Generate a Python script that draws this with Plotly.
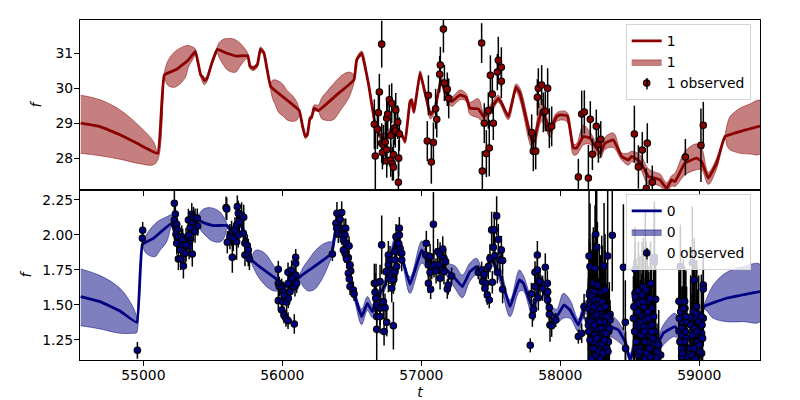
import plotly.graph_objects as go

# ---- series 1 (top panel) ----
curve1_x = [54549,54688,54832,54976,55103,55151,55240,55324,55374,55412,55424,55439,55456,55492,55532,55600,55671,55751,55767,55791,55820,55842,55868,55916,56031,56122,56146,56165,56180,56199,56211,56228,56259,56391,56515,56535,56571,56619,56667,56708,56727,56787,56847,56883,56919,56931,56947,56991,57027,57067,57099,57142,57170,57218,57278,57322,57350,57410,57451,57518,57554,57578,57626,57681,57710,57782,57806,57866,57926,57974,57998,58051,58094,58118,58166,58214,58286,58322,58382,58442,58490,58514,58574,58633,58681,58717,58765,58801,58825,58897,58981,59017,59065,59125,59185,59317,59437]
curve1_y = [29.0,28.9,28.67,28.38,28.14,30.38,30.54,30.81,31.05,30.38,30.33,30.22,30.26,30.71,31.11,31.0,30.92,30.93,30.62,30.57,30.67,31.11,31.0,30.05,29.67,29.36,28.9,28.62,28.67,29.14,29.17,29.43,29.36,29.81,30.24,30.81,31.0,30.14,29.0,28.62,28.48,28.81,28.76,28.48,29.62,29.67,29.33,30.43,29.86,29.24,29.43,30.24,29.9,29.62,29.81,29.74,29.43,29.41,29.17,29.52,29.71,29.57,29.19,30.03,29.86,28.67,28.43,29.38,28.81,29.19,29.24,29.21,28.29,28.29,28.62,28.57,28.14,28.43,28.52,28.05,27.95,28.05,27.9,27.48,27.43,27.38,27.14,27.38,27.33,27.86,28.0,27.9,27.43,27.86,28.62,28.79,28.92]

band1_x = [54549,54688,54832,54976,55072,55108,55151,55160,55180,55228,55300,55324,55360,55374,55412,55439,55456,55492,55532,55545,55575,55605,55635,55665,55695,55730,55751,55767,55791,55820,55842,55868,55916,55930,55947,55975,56007,56031,56079,56105,56122,56146,56165,56180,56199,56211,56228,56259,56283,56319,56367,56415,56475,56505,56515,56535,56571,56619,56667,56708,56787,56847,56883,56919,56947,56991,57027,57067,57099,57142,57170,57218,57278,57322,57350,57410,57451,57518,57554,57626,57681,57710,57782,57806,57866,57926,57974,58046,58094,58118,58166,58214,58286,58322,58382,58442,58490,58514,58574,58633,58681,58717,58765,58801,58825,58897,58981,59017,59065,59125,59185,59200,59221,59257,59293,59365,59437]
band1_hi = [29.8,29.67,29.38,28.9,28.48,28.1,30.43,30.6,30.81,31.05,31.21,31.22,31.17,31.12,30.45,30.3,30.33,30.77,31.19,31.3,31.4,31.42,31.42,31.38,31.29,31.13,31.0,30.68,30.63,30.73,31.18,31.06,30.14,30.23,30.24,30.2,30.1,29.95,29.76,29.6,29.38,28.96,28.68,28.73,29.2,29.23,29.52,29.52,29.72,29.9,30.12,30.33,30.46,30.42,30.33,30.87,31.06,30.2,29.06,28.7,28.87,28.82,28.54,29.68,29.39,30.5,29.93,29.34,29.5,30.35,30.0,29.76,29.95,29.85,29.6,29.7,29.3,29.65,29.8,29.27,30.12,30.0,28.85,28.6,29.7,28.95,29.3,29.32,28.4,28.42,28.95,28.75,28.3,28.6,28.72,28.15,28.15,28.2,28.1,27.7,27.6,27.55,27.3,27.5,27.57,28.19,28.41,28.29,27.6,28.0,28.67,28.95,29.19,29.33,29.43,29.55,29.65]
band1_lo = [28.14,28.07,27.97,27.84,27.81,28.0,30.33,30.2,30.07,30.03,30.29,30.6,30.85,30.96,30.32,30.1,30.18,30.65,31.0,30.88,30.67,30.52,30.46,30.46,30.62,30.8,30.86,30.56,30.5,30.6,31.05,30.94,29.95,29.7,29.55,29.3,29.2,29.1,29.05,29.09,29.2,28.84,28.56,28.61,29.08,29.11,29.34,29.33,29.13,29.08,29.1,29.35,29.7,30.0,30.14,30.75,30.94,30.08,28.94,28.54,28.75,28.7,28.42,29.56,29.27,30.35,29.79,29.12,29.36,30.1,29.8,29.48,29.67,29.63,29.25,29.15,29.02,29.4,29.6,29.1,29.9,29.65,28.4,28.2,29.05,28.6,29.05,29.05,28.1,28.1,28.38,28.4,28.0,28.25,28.3,27.95,27.8,27.9,27.7,27.25,27.25,27.2,27.05,27.2,27.19,27.52,27.67,27.67,27.25,27.7,28.57,28.35,28.24,28.18,28.14,28.12,28.12]

obs1_x = [56662,56669,56684,56691,56698,56715,56715,56720,56727,56741,56751,56751,56758,56751,56770,56780,56787,56780,56792,56799,56799,56806,56813,56816,56830,56842,56837,56835,57051,57043,57072,57087,57103,57111,57132,57137,57159,57166,57187,57197,57434,57439,57453,57468,57482,57489,57497,57511,57518,57547,57554,57576,57576,57794,57806,57823,57835,57842,57866,57878,57892,57909,57921,57938,58130,58154,58173,58202,58216,58231,58259,58274,58291,58533,58562,58590,58626,58619,58662,58900,59012,59029]
obs1_y = [28.97,28.06,28.83,29.3,29.89,31.26,28.43,28.16,28.38,28.46,29.14,28.24,29.26,27.92,29.67,28.64,29.57,27.95,27.84,28.1,27.74,28.86,28.78,29.38,29.03,28.69,28.0,27.31,29.8,28.49,27.89,28.45,29.41,29.11,30.4,30.66,31.69,30.15,29.97,29.71,31.29,27.63,29.0,28.13,29.36,28.29,30.37,29.83,29.0,30.46,30.8,30.6,30.2,28.73,28.2,28.2,29.74,30.0,30.09,29.31,29.34,30.0,28.86,28.91,27.46,29.26,29.32,27.43,29.11,28.11,28.91,28.39,28.54,28.69,27.75,28.23,28.43,27.14,27.31,28.03,28.37,28.94]
obs1_err = [0.71,0.95,0.57,0.67,0.52,0.67,0.57,0.48,0.57,0.57,0.48,0.48,0.48,0.48,0.43,0.52,0.57,0.48,0.48,0.43,0.38,0.48,0.48,0.48,0.48,0.48,0.52,0.57,0.57,0.57,0.62,0.57,0.57,0.52,0.52,0.52,0.67,0.52,0.48,0.57,0.57,0.57,0.57,0.67,0.52,0.81,0.57,0.57,0.48,0.52,0.67,0.57,0.48,0.52,0.57,0.52,0.52,0.57,0.57,0.57,0.57,0.57,0.57,0.57,0.52,0.67,0.62,0.95,0.52,0.45,0.48,0.52,0.52,0.81,0.62,0.52,0.57,0.57,0.48,0.52,1.05,0.67]

# ---- series 0 (bottom panel) ----
curve0_x = [54549,54688,54832,54952,54993,55072,55204,55240,55288,55348,55396,55432,55504,55600,55647,55683,55743,55779,55983,56031,56079,56127,56355,56379,56403,56439,56487,56523,56571,56612,56648,56674,56739,56811,56859,56919,57003,57051,57170,57242,57295,57350,57398,57446,57506,57566,57638,57705,57734,57806,57854,57938,57974,58027,58070,58130,58178,58274,58358,58418,58466,58502,58538,58598,58681,58741,58825,58885,58945,58981,59034,59197,59437]
curve0_y = [1.56,1.524,1.457,1.376,1.933,1.976,2.083,1.964,1.917,2.07,2.107,2.088,2.067,2.067,2.02,2.12,1.95,1.821,1.667,1.631,1.655,1.702,1.869,2.012,2.12,2.0,1.714,1.56,1.417,1.512,1.452,1.536,1.643,1.952,1.845,1.648,1.893,1.798,1.762,1.69,1.631,1.738,1.774,1.69,1.821,1.714,1.488,1.679,1.655,1.464,1.667,1.44,1.417,1.5,1.464,1.357,1.488,1.333,1.345,1.321,1.238,1.107,1.214,1.238,1.19,1.298,1.345,1.262,1.167,1.333,1.488,1.548,1.595]

band0_x = [54549,54688,54832,54928,54950,54959,54993,55010,55036,55084,55120,55168,55204,55240,55288,55348,55396,55415,55444,55480,55516,55550,55576,55595,55600,55647,55683,55743,55779,55795,55815,55850,55887,55925,55959,55983,56031,56079,56127,56150,56187,56230,56283,56330,56355,56379,56403,56439,56487,56523,56571,56612,56648,56674,56739,56811,56859,56919,57003,57051,57170,57242,57295,57350,57398,57446,57506,57566,57638,57705,57734,57806,57854,57938,57974,58022,58070,58130,58178,58274,58358,58418,58466,58502,58538,58598,58681,58741,58825,58885,58945,58981,59034,59101,59197,59317,59437]
band0_hi = [1.757,1.71,1.619,1.48,1.42,1.37,1.94,1.98,2.024,2.08,2.107,2.13,2.143,2.02,1.97,2.12,2.143,2.17,2.19,2.195,2.186,2.165,2.131,2.1,2.083,2.05,2.15,1.98,1.845,1.88,1.893,1.885,1.857,1.8,1.75,1.679,1.66,1.68,1.726,1.77,1.821,1.88,1.929,1.95,1.952,2.05,2.15,2.03,1.74,1.6,1.47,1.56,1.5,1.58,1.68,1.98,1.87,1.7,1.957,1.83,1.8,1.779,1.714,1.8,1.833,1.74,1.86,1.77,1.536,1.75,1.71,1.53,1.72,1.49,1.47,1.583,1.536,1.4,1.53,1.4,1.429,1.381,1.28,1.15,1.26,1.28,1.23,1.357,1.44,1.31,1.21,1.37,1.5,1.643,1.733,1.774,1.79]
band0_lo = [1.352,1.329,1.298,1.298,1.3,1.33,1.917,1.88,1.857,1.845,1.89,1.952,2.06,1.91,1.87,2.02,2.083,2.03,2.0,1.965,1.95,1.95,1.97,2.03,2.048,1.99,2.09,1.92,1.798,1.76,1.72,1.67,1.63,1.605,1.6,1.643,1.6,1.63,1.667,1.63,1.6,1.61,1.68,1.78,1.85,1.97,2.09,1.97,1.69,1.52,1.36,1.46,1.41,1.49,1.61,1.92,1.82,1.583,1.798,1.76,1.72,1.619,1.552,1.67,1.714,1.64,1.78,1.66,1.417,1.595,1.6,1.4,1.62,1.39,1.37,1.405,1.405,1.31,1.44,1.28,1.274,1.238,1.19,1.09,1.17,1.2,1.15,1.214,1.274,1.19,1.12,1.29,1.47,1.405,1.381,1.381,1.381]

# observed, cluster by cluster
early_x = [54957,54995,54993]
early_y = [1.176,2.033,1.976]
early_e = [0.06,0.06,0.06]

b_x = [55223,55230,55223,55228,55240,55245,55235,55245,55240,55252,55276,55283,55283,55269,55300,55336,55329,55331,55324,55348,55360,55348,55372,55388,55391,55360,55372,55329,55252,55269,55288,55352,55307,55336]
b_y = [2.226,2.15,2.107,2.071,2.076,2.036,2.005,1.976,1.94,1.988,1.988,1.964,1.929,1.893,1.869,1.964,2.0,1.94,2.107,2.148,2.131,2.083,2.119,2.119,2.064,2.048,2.024,1.917,1.829,1.829,1.779,1.864,1.929,2.052]
b_e = [0.1,0.07,0.07,0.08,0.08,0.08,0.07,0.08,0.08,0.08,0.08,0.08,0.08,0.09,0.1,0.08,0.08,0.09,0.08,0.08,0.07,0.08,0.07,0.07,0.07,0.09,0.08,0.09,0.08,0.08,0.09,0.09,0.12,0.08]

c_x = [55595,55600,55676,55683,55707,55722,55604,55635,55659,55671,55640,55671,55623,55647,55683,55719,55731,55748,55755,55731,55755,55763,55691]
c_y = [2.195,2.186,2.202,2.155,2.143,2.126,1.948,2.012,2.036,2.071,1.84,1.952,1.988,1.976,2.0,2.012,1.94,1.924,1.893,1.857,1.857,1.829,2.095]
c_e = [0.08,0.08,0.08,0.09,0.09,0.09,0.08,0.09,0.09,0.09,0.11,0.13,0.09,0.09,0.09,0.09,0.09,0.08,0.08,0.08,0.08,0.08,0.09]

d_x = [55971,55971,55978,55995,56007,55971,56002,56031,56043,56012,56055,56067,56079,56091,56103,56086,55995,56012,56026,56041,56041,56067,56096,56096,56096,56067,56043,56360]
d_y = [1.755,1.655,1.631,1.619,1.595,1.531,1.524,1.519,1.548,1.571,1.595,1.643,1.667,1.631,1.655,1.364,1.464,1.429,1.405,1.388,1.733,1.75,1.714,1.798,1.84,1.69,1.655,1.864]
d_e = [0.06,0.06,0.07,0.07,0.07,0.07,0.07,0.07,0.07,0.07,0.07,0.07,0.07,0.07,0.07,0.07,0.06,0.06,0.06,0.06,0.07,0.07,0.07,0.07,0.06,0.07,0.07,0.05]

e_x = [56393,56427,56386,56415,56391,56403,56444,56427,56451,56456,56439,56463,56480,56451,56475,56487,56492,56475,56482,56487,56511,56516,56439,56463]
e_y = [2.155,2.16,2.083,2.112,2.048,2.012,2.048,2.0,2.0,2.048,1.964,1.94,1.921,1.869,1.838,1.786,1.743,1.726,1.686,1.631,1.607,1.579,1.893,1.829]
e_e = [0.08,0.08,0.07,0.07,0.07,0.07,0.07,0.07,0.07,0.07,0.07,0.07,0.07,0.07,0.07,0.06,0.06,0.06,0.06,0.06,0.06,0.05,0.07,0.07]

f_x = [56662,56674,56667,56703,56672,56679,56703,56727,56739,56679,56703,56751,56732,56679,56799,56715,56763,56775,56763,56775,56746,56763,56787,56811,56799,56787,56811,56818,56842,56842,56847,56859,56859,56811,56835,56823]
f_y = [1.655,1.655,1.59,1.667,1.548,1.5,1.476,1.524,1.481,1.417,1.417,1.376,1.31,1.326,1.352,1.929,1.857,1.821,1.786,1.75,1.738,1.69,1.714,1.738,1.679,1.619,1.821,1.988,2.048,2.0,1.905,1.869,1.821,1.881,1.94,1.774]
f_e = [0.14,0.14,0.14,0.12,0.14,0.12,0.12,0.12,0.1,0.12,0.12,0.1,0.1,0.22,0.17,0.21,0.1,0.1,0.1,0.1,0.1,0.1,0.1,0.1,0.1,0.1,0.09,0.09,0.08,0.08,0.08,0.08,0.08,0.1,0.09,0.1]

g_x = [57036,57031,57063,57051,57075,57063,57051,57067,57091,57118,57135,57154,57130,57135,57106,57163,57175,57163,57187,57194,57218,57087]
g_y = [1.94,1.857,1.845,1.786,1.774,1.733,1.655,1.612,1.786,1.881,1.857,1.9,1.786,1.69,1.743,1.833,1.81,1.738,1.614,1.643,1.707,2.076]
g_e = [0.09,0.09,0.09,0.09,0.09,0.09,0.07,0.07,0.09,0.09,0.09,0.09,0.09,0.08,0.09,0.09,0.09,0.09,0.07,0.07,0.06,0.23]

h_x = [57410,57434,57451,57441,57465,57458,57475,57489,57482,57494,57506,57525,57542,57518,57530,57554,57576,57566,57585,57547,57511,57585]
h_y = [1.733,1.75,1.719,1.667,1.655,1.619,1.571,1.536,1.774,1.833,2.036,2.036,2.136,1.912,1.852,1.969,1.893,1.821,1.817,1.733,1.662,1.612]
h_e = [0.05,0.06,0.06,0.07,0.07,0.07,0.07,0.06,0.09,0.1,0.13,0.13,0.14,0.12,0.12,0.11,0.1,0.1,0.1,0.08,0.08,0.1]

i_x = [57784,57792,57799,57808,57818,57818,57835,57835,57842,57854,57873,57842,57892,57907,57909,57909,57921,57921,57926,57938,57967,58130,58154]
i_y = [1.212,1.579,1.424,1.469,1.631,1.733,1.857,1.75,1.679,1.667,1.619,1.552,1.769,1.655,1.595,1.536,1.481,1.433,1.357,1.352,1.393,1.274,1.298]
i_e = [0.05,0.08,0.08,0.08,0.08,0.08,0.1,0.1,0.09,0.09,0.09,0.09,0.1,0.09,0.08,0.08,0.09,0.09,0.12,0.08,0.05,0.05,0.07]

j_x = [58171,58207,58255,58262,58374,58341,58315,58214,58250,58238,58214,58245,58298,58322,58226,58202,58214,58238,58262,58298,58202,58238,58274,58310,58358,58358,58226,58262,58298,58334,58202,58250,58291,58346,58274,58291,58334,58226,58286,58238,58310,58454,58468,58470]
j_y = [1.488,1.85,2.005,1.912,1.998,1.85,1.779,1.774,1.762,1.655,1.595,1.595,1.595,1.607,1.536,1.476,1.524,1.452,1.464,1.44,1.393,1.405,1.393,1.417,1.433,1.393,1.333,1.333,1.333,1.357,1.357,1.286,1.274,1.238,1.214,1.19,1.19,1.119,1.119,1.238,1.298,1.769,1.376,1.19]
j_e = [0.09,0.5,0.5,0.5,0.4,0.5,0.45,0.45,0.45,0.4,0.35,0.35,0.4,0.4,0.35,0.3,0.35,0.35,0.3,0.35,0.3,0.3,0.3,0.35,0.1,0.1,0.3,0.3,0.3,0.3,0.3,0.3,0.3,0.25,0.3,0.3,0.25,0.3,0.3,0.3,0.3,0.45,0.3,0.12]

j2_x = [58209,58219,58231,58240,58250,58259,58269,58281,58291,58303,58312,58324,58336,58348,58204,58214,58223,58235,58245,58255,58264,58276,58286,58298,58307,58319,58331,58343,58353,58267]
j2_y = [1.571,1.5,1.56,1.488,1.536,1.429,1.512,1.536,1.476,1.524,1.381,1.488,1.417,1.31,1.31,1.25,1.381,1.19,1.357,1.143,1.262,1.167,1.381,1.226,1.155,1.25,1.298,1.167,1.333,1.643]
j2_e = [0.4,0.4,0.45,0.4,0.4,0.38,0.42,0.4,0.38,0.4,0.38,0.4,0.35,0.3,0.35,0.33,0.38,0.33,0.38,0.33,0.35,0.33,0.38,0.33,0.3,0.33,0.35,0.3,0.33,0.45]

k_x = [58612,58538,58538,58562,58598,58617,58650,58574,58545,58686,58526,58586,58621,58657,58550,58574,58598,58641,58562,58598,58641,58681,58550,58574,58610,58645,58669,58722,58562,58610,58645,58693,58586,58677,58677]
k_y = [1.886,1.755,1.583,1.6,1.631,1.607,1.655,1.548,1.536,1.54,1.405,1.421,1.429,1.476,1.357,1.345,1.345,1.345,1.298,1.286,1.286,1.31,1.19,1.19,1.238,1.226,1.214,1.143,1.143,1.124,1.131,1.124,1.167,1.84,1.805]
k_e = [0.3,0.3,0.3,0.35,0.35,0.35,0.3,0.3,0.3,0.3,0.3,0.3,0.3,0.3,0.3,0.3,0.3,0.3,0.25,0.25,0.25,0.25,0.2,0.25,0.25,0.25,0.2,0.1,0.2,0.2,0.2,0.2,0.2,0.4,0.4]

k2_x = [58530,58540,58552,58564,58576,58588,58600,58612,58624,58636,58648,58660,58672,58684,58696,58708,58535,58547,58559,58571,58583,58595,58607,58619,58631,58643,58655,58667]
k2_y = [1.488,1.56,1.44,1.512,1.381,1.571,1.488,1.393,1.524,1.405,1.548,1.357,1.417,1.25,1.167,1.214,1.31,1.238,1.452,1.167,1.286,1.524,1.31,1.155,1.452,1.19,1.31,1.262]
k2_e = [0.33,0.38,0.33,0.35,0.3,0.38,0.33,0.3,0.35,0.33,0.38,0.3,0.33,0.28,0.2,0.25,0.3,0.28,0.33,0.25,0.3,0.35,0.3,0.25,0.33,0.25,0.3,0.28]

l_x = [58864,58854,58895,58854,58878,58909,58964,59029,59029,58897,58938,58873,58909,58873,58909,58981,59029,59017,58969,58988,58933,58969,59017,58873,58993,58950]
l_y = [1.774,1.526,1.526,1.314,1.381,1.381,1.679,1.643,1.614,1.476,1.412,1.286,1.262,1.19,1.131,1.488,1.405,1.298,1.286,1.238,1.19,1.119,1.155,1.131,1.321,1.802]
l_e = [0.3,0.25,0.25,0.25,0.25,0.25,0.3,0.2,0.2,0.25,0.3,0.2,0.2,0.15,0.15,0.3,0.2,0.2,0.2,0.2,0.15,0.15,0.15,0.15,0.2,0.4]

l2_x = [58856,58866,58876,58885,58895,58904,58938,58948,58957,58967,58976,58986,58996,59005,59015,59024,58861,58880,58900,58943,58962,58981,59000,59020]
l2_y = [1.405,1.452,1.333,1.476,1.238,1.417,1.357,1.286,1.452,1.333,1.405,1.31,1.381,1.167,1.417,1.262,1.238,1.155,1.31,1.143,1.19,1.44,1.214,1.357]
l2_e = [0.33,0.35,0.3,0.35,0.25,0.33,0.33,0.3,0.38,0.33,0.38,0.3,0.33,0.2,0.3,0.25,0.28,0.2,0.28,0.2,0.25,0.38,0.22,0.28]

clusters0 = [(early_x,early_y,early_e),(b_x,b_y,b_e),(c_x,c_y,c_e),(d_x,d_y,d_e),(e_x,e_y,e_e),(f_x,f_y,f_e),(g_x,g_y,g_e),(h_x,h_y,h_e),(i_x,i_y,i_e),(j_x,j_y,j_e),(j2_x,j2_y,j2_e),(k_x,k_y,k_e),(k2_x,k2_y,k2_e),(l_x,l_y,l_e),(l2_x,l2_y,l2_e)]
for a,b,c in clusters0:
    assert len(a)==len(b)==len(c),(len(a),len(b),len(c),a[0])
assert len(band1_x)==len(band1_hi)==len(band1_lo),(len(band1_x),len(band1_hi),len(band1_lo))
assert len(band0_x)==len(band0_hi)==len(band0_lo),(len(band0_x),len(band0_hi),len(band0_lo))

obs0_x = sum((c[0] for c in clusters0), [])
obs0_y = sum((c[1] for c in clusters0), [])
obs0_err = sum((c[2] for c in clusters0), [])

RED = "#8b0000"; NAVY = "#000080"
RED_A = "rgba(139,0,0,0.5)"; NAVY_A = "rgba(0,0,128,0.5)"
FONT = "DejaVu Sans"

fig = go.Figure()

def add_panel(xa, ya, legend, name, color, fill, bx, hi, lo, cx, cy, ox, oy, oe):
    fig.add_trace(go.Scatter(x=bx + bx[::-1], y=hi + lo[::-1], xaxis=xa, yaxis=ya, mode="lines",
                             fill="toself", fillcolor=fill, line=dict(color=fill, width=1, shape="spline", smoothing=1),
                             name=name, legend=legend, legendrank=2))
    fig.add_trace(go.Scatter(x=cx, y=cy, xaxis=xa, yaxis=ya, mode="lines",
                             line=dict(color=color, width=2.8, shape="spline", smoothing=0.3), name=name, legend=legend, legendrank=1))
    fig.add_trace(go.Scatter(x=ox, y=oy, xaxis=xa, yaxis=ya, mode="markers",
                             marker=dict(color=color, size=6.5, line=dict(color="black", width=1.1)),
                             error_y=dict(type="data", array=oe, visible=True, color="black", thickness=1.5, width=0),
                             name=name + " observed", legend=legend, legendrank=3))

add_panel("x", "y", "legend", "1", RED, RED_A, band1_x, band1_hi, band1_lo, curve1_x, curve1_y, obs1_x, obs1_y, obs1_err)
add_panel("x2", "y2", "legend2", "0", NAVY, NAVY_A, band0_x, band0_hi, band0_lo, curve0_x, curve0_y, obs0_x, obs0_y, obs0_err)

axis = dict(showline=True, linecolor="black", linewidth=1.1, mirror=True, ticks="outside", ticklen=5,
            tickwidth=1.1, tickcolor="black", showgrid=False, zeroline=False,
            tickfont=dict(family=FONT, size=13.9, color="black"))
xticks = [55000, 56000, 57000, 58000, 59000]
xr = [54544, 59437]
leg = dict(bgcolor="rgba(255,255,255,0.8)", bordercolor="#d5d5d5", borderwidth=1, xref="paper", yref="paper",
           xanchor="left", yanchor="top", font=dict(family=FONT, size=13.9, color="black"), itemwidth=30,
           traceorder="normal")

fig.update_layout(
    width=800, height=400, margin=dict(l=80, r=40, t=20, b=40, pad=0, autoexpand=False),
    paper_bgcolor="white", plot_bgcolor="white", showlegend=True,
    font=dict(family=FONT, size=13.9, color="black"),
    xaxis=dict(axis, domain=[0, 1], range=xr, anchor="y", tickvals=xticks, showticklabels=False),
    yaxis=dict(axis, domain=[0.5, 1], range=[27.09, 31.95], anchor="x", tickvals=[28, 29, 30, 31],
               ticktext=["28", "29", "30", "31"], ticklabelstandoff=-2,
               title=dict(text="<i>f</i>", standoff=10, font=dict(family=FONT, size=13.9))),
    xaxis2=dict(axis, domain=[0, 1], range=xr, anchor="y2", tickvals=xticks, ticktext=[str(v) for v in xticks],
                ticklabelstandoff=-3,
                title=dict(text="<i>t</i>", standoff=9, font=dict(family=FONT, size=13.9))),
    yaxis2=dict(axis, domain=[0, 0.5], range=[1.107, 2.321], anchor="x2", tickvals=[1.25, 1.5, 1.75, 2.0, 2.25],
                ticktext=["1.25", "1.50", "1.75", "2.00", "2.25"], ticklabelstandoff=-2,
                title=dict(text="<i>f</i>", standoff=7, font=dict(family=FONT, size=13.9))),
    legend=dict(leg, x=0.8025, y=0.9873),
    legend2=dict(leg, x=0.8025, y=0.4873),
    annotations=[
        dict(xref="paper", yref="paper", x=0.8338, y=0.7956, text="", showarrow=True, arrowhead=0, arrowwidth=1.4,
             arrowcolor="black", axref="pixel", ayref="pixel", ax=0, ay=-13),
        dict(xref="paper", yref="paper", x=0.8338, y=0.2956, text="", showarrow=True, arrowhead=0, arrowwidth=1.4,
             arrowcolor="black", axref="pixel", ayref="pixel", ax=0, ay=-13),
    ],
)

fig.write_html("out.html", config=dict(displayModeBar=False), post_script="document.body.style.margin='0';document.documentElement.style.overflow='hidden';")
